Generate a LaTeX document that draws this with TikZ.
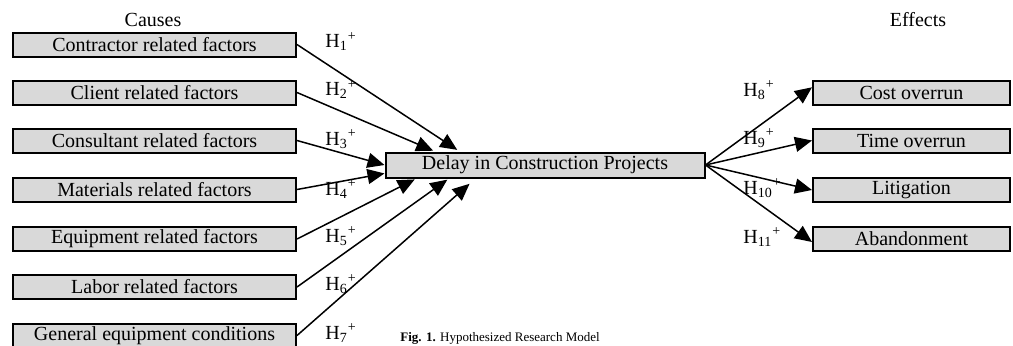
\documentclass[tikz,border=0pt]{standalone}
\usepackage{fontspec}
\setmainfont{Liberation Serif}
\definecolor{boxgray}{RGB}{217,217,217}
\usepackage{tikz}
\usetikzlibrary{arrows.meta, positioning, calc}
\newcommand{\hname}[1]{H\textsubscript{#1}\textsuperscript{+}}

\tikzset{
  factor/.style={draw=black, fill=boxgray, line width=1pt, minimum width=141.5pt, minimum height=12pt, inner sep=0pt, font=\fontsize{10}{12}\selectfont},
  effect/.style={factor, minimum width=98.5pt},
  hyp/.style={anchor=base west, inner sep=0pt, font=\fontsize{10}{12}\selectfont},
  heading/.style={anchor=base, inner sep=0pt, font=\fontsize{10}{12}\selectfont},
  link/.style={line width=0.75pt, -{Triangle[length=8.5pt,width=7.5pt]}}
}

\begin{document}
\begin{tikzpicture}[x=0.5pt, y=-0.5pt]
  \useasboundingbox (0,0) rectangle (1013,345);

  % causes
  \node[heading] (causes) at (153,26.5) {Causes};
  \node[factor] (contractor) at (154.5,44.5) {Contractor related factors};
  \node[factor] (client) at (154.5,92.5) {Client related factors};
  \node[factor] (consultant) at (154.5,140.5) {Consultant related factors};
  \node[factor] (materials) at (154.5,189.5) {Materials related factors};
  \node[factor] (equipment) at (154.5,239) {Equipment related factors};
  \node[factor] (labor) at (154.5,287) {Labor related factors};
  \node[factor] (general) at (154.5,335.5) {General equipment conditions};

  \node[factor, minimum width=159.5pt, minimum height=12.5pt] (delay) at (545,165) {Delay in Construction Projects};

  % effects
  \node[heading] (effects) at (918,26.5) {Effects};
  \node[effect] (cost) at (911.5,92.5) {Cost overrun};
  \node[effect] (time) at (911.5,140.5) {Time overrun};
  \node[effect] (litigation) at (911.5,190) {Litigation};
  \node[effect] (abandon) at (911.5,238.5) {Abandonment};

  % hypotheses
  \node[hyp] (h1) at (325,47.5) {\hname{1}};
  \node[hyp] (h2) at (325,95.5) {\hname{2}};
  \node[hyp] (h3) at (325,145) {\hname{3}};
  \node[hyp] (h4) at (325,195) {\hname{4}};
  \node[hyp] (h5) at (325,242) {\hname{5}};
  \node[hyp] (h6) at (325,290) {\hname{6}};
  \node[hyp] (h7) at (325,339) {\hname{7}};
  \node[hyp] (h8) at (743,96) {\hname{8}};
  \node[hyp] (h9) at (743,144) {\hname{9}};
  \node[hyp] (h10) at (743,194) {\hname{10}};
  \node[hyp] (h11) at (743,243) {\hname{11}};

  \draw[link, shorten >=1.5pt] (contractor.east) -- (delay.171);
  \draw[link, shorten >=1pt] (client.east) -- (delay.173.7);
  \draw[link] (consultant.east) -- (delay.west);
  \draw[link] (materials.east) -- (delay.183);
  \draw[link, shorten >=1pt] (equipment.east) -- (delay.186.3);
  \draw[link, shorten >=1pt] (labor.east) -- (delay.188.3);
  \draw[link, shorten >=4pt] (general.east) -- (delay.191.3);

  \draw[link] (delay.east) -- (cost.177);
  \draw[link] (delay.east) -- (time.west);
  \draw[link] (delay.east) -- (litigation.west);
  \draw[link] (delay.east) -- (abandon.182);

  \node[anchor=base west, inner sep=0pt, font=\fontsize{6.5}{8}\selectfont] (caption) at (400,341) {\textbf{Fig. 1.} Hypothesized Research Model};
\end{tikzpicture}
\end{document}
